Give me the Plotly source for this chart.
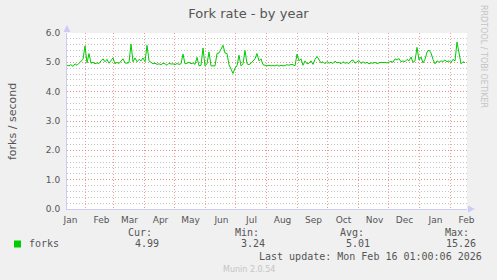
import pandas as pd
import plotly.graph_objects as go

# ---- data ----
start_date = "2025-01-13 12:00"
step_days = 2
forks = [
    4.90, 4.88, 4.92, 4.86, 4.95, 4.90, 4.97, 5.05, 5.10, 5.56,
    4.98, 5.30, 4.97, 5.00, 4.95, 4.98, 4.96, 5.05, 5.12, 5.02,
    5.10, 4.97, 5.05, 5.15, 4.95, 5.00, 4.96, 5.05, 5.12, 4.98,
    4.97, 4.99, 5.62, 5.02, 5.15, 5.02, 5.10, 5.05, 5.15, 5.02,
    5.58, 5.05, 5.00, 4.95, 4.97, 4.93, 4.95, 4.92, 4.97, 4.95,
    4.90, 4.97, 4.94, 4.95, 4.92, 4.96, 4.93, 4.95, 5.28, 4.95,
    4.97, 5.00, 4.95, 4.98, 4.93, 5.17, 4.88, 4.90, 5.49, 4.88,
    4.95, 5.35, 4.88, 4.87, 4.88, 5.30, 5.32, 5.45, 5.58, 5.32,
    5.30, 4.92, 4.75, 4.62, 4.80, 4.88, 5.24, 4.88, 4.95, 5.40,
    4.95, 4.92, 4.97, 5.05, 5.12, 5.30, 5.05, 5.12, 4.92, 4.90,
    4.88, 4.90, 4.88, 4.89, 4.88, 4.91, 4.87, 4.90, 4.88, 4.89,
    4.92, 4.90, 4.93, 4.92, 4.88, 5.28, 5.05, 5.12, 4.90, 5.05,
    4.95, 4.97, 5.05, 4.93, 5.10, 5.20, 5.08, 4.98, 5.02, 4.95,
    5.03, 4.97, 5.00, 4.96, 5.04, 4.98, 5.00, 4.95, 5.02, 4.97,
    4.99, 4.96, 5.05, 5.08, 4.97, 5.02, 5.06, 4.96, 5.02, 4.97,
    5.00, 4.95, 4.98, 4.97, 5.00, 4.96, 4.98, 5.00, 4.99, 5.00,
    4.98, 5.00, 5.03, 5.00, 5.12, 5.08, 5.13, 5.02, 5.05, 5.02,
    5.10, 5.05, 5.18, 5.00, 5.05, 5.51, 5.08, 5.18, 4.98, 5.10,
    5.35, 5.42, 5.32, 5.10, 4.95, 5.05, 5.00, 5.05, 5.03, 5.08,
    5.02, 5.05, 4.99, 5.10, 5.05, 5.69, 5.35, 4.95, 5.02, 4.99,
]
month_labels = ["Jan", "Feb", "Mar", "Apr", "May", "Jun", "Jul",
                "Aug", "Sep", "Oct", "Nov", "Dec", "Jan", "Feb"]
label_dates = ["2025-01-17", "2025-02-17", "2025-03-17", "2025-04-17",
               "2025-05-17", "2025-06-17", "2025-07-17", "2025-08-17",
               "2025-09-17", "2025-10-17", "2025-11-17", "2025-12-17",
               "2026-01-17", "2026-02-17"]
month_starts = ["2025-02-01", "2025-03-01", "2025-04-01", "2025-05-01",
                "2025-06-01", "2025-07-01", "2025-08-01", "2025-09-01",
                "2025-10-01", "2025-11-01", "2025-12-01", "2026-01-01",
                "2026-02-01"]
x_range = ["2025-01-13 12:00", "2026-02-17 12:00"]
y_ticks = [0, 1, 2, 3, 4, 5, 6]
y_tick_labels = ["0.0", "1.0", "2.0", "3.0", "4.0", "5.0", "6.0"]
stats = {"Cur:": "4.99", "Min:": "3.24", "Avg:": "5.01", "Max:": "15.26"}
title = "Fork rate - by year"
y_title = "forks / second"
last_update = "Last update: Mon Feb 16 01:00:06 2026"

dates = pd.date_range(start=start_date, periods=len(forks), freq=f"{step_days}D")

# ---- style ----
BG = "#F0F0F0"
TXT = "#555555"
MONO = "DejaVu Sans Mono"
SANS = "DejaVu Sans"
MAJOR = "rgba(240,120,120,0.75)"
MINOR = "rgba(150,150,150,0.55)"
AXIS = "#CCCCF5"
W, H = 497, 280
L, R, T, B = 67, 30, 33, 71
PW, PH = W - L - R, H - T - B


def px(x):
    return (x - L) / PW


def py(y):
    return (H - B - y) / PH


fig = go.Figure()
# invisible trace on xaxis2 to activate month-start grid
fig.add_trace(go.Scatter(x=[dates[0]], y=[0], xaxis="x2", mode="markers",
                         marker=dict(opacity=0), hoverinfo="skip", showlegend=False))
fig.add_trace(go.Scatter(x=dates, y=forks, mode="lines",
                         line=dict(color="#00CC00", width=1), showlegend=False))

fig.update_layout(
    width=W, height=H,
    margin=dict(l=L, r=R, t=T, b=B),
    paper_bgcolor=BG, plot_bgcolor="white",
    title=dict(text=title, x=0.5, xref="container", y=1 - 13 / H, yref="container",
               xanchor="center", yanchor="middle",
               font=dict(family=SANS, size=13, color=TXT)),
    xaxis=dict(range=x_range, tickmode="array", tickvals=label_dates, ticktext=month_labels,
               showgrid=False, zeroline=False, showline=True, linecolor=AXIS, linewidth=1,
               ticks="outside", ticklen=2, tickcolor="rgba(0,0,0,0)",
               tickfont=dict(family=SANS, size=9, color=TXT)),
    xaxis2=dict(range=x_range, overlaying="x", tickmode="array", tickvals=month_starts,
                showticklabels=False, showgrid=True, gridcolor=MAJOR, griddash="1px,2px",
                gridwidth=1, zeroline=False, showline=False, ticks=""),
    yaxis=dict(range=[0, 6], tickmode="array", tickvals=y_ticks, ticktext=y_tick_labels,
               showgrid=True, gridcolor=MAJOR, griddash="1px,2px", gridwidth=1,
               minor=dict(dtick=0.2, showgrid=True, gridcolor=MINOR, griddash="1px,2px",
                          gridwidth=1, ticks=""),
               zeroline=False, showline=True, linecolor=AXIS, linewidth=1,
               ticks="outside", ticklen=4, tickcolor="rgba(0,0,0,0)",
               tickfont=dict(family=SANS, size=9, color=TXT)),
)

# axis arrows
fig.add_shape(type="path", xref="paper", yref="paper",
              path=f"M {px(67)} {py(25)} L {px(63.5)} {py(32)} L {px(70.5)} {py(32)} Z",
              fillcolor=AXIS, line=dict(width=0))
fig.add_shape(type="path", xref="paper", yref="paper",
              path=f"M {px(475)} {py(209)} L {px(468)} {py(205.5)} L {px(468)} {py(212.5)} Z",
              fillcolor=AXIS, line=dict(width=0))
# legend colour box
fig.add_shape(type="rect", xref="paper", yref="paper",
              x0=px(14), x1=px(21), y0=py(247.5), y1=py(240.5),
              fillcolor="#00CC00", line=dict(width=0))

ann = []
ann.append(dict(text=y_title, x=px(12), y=0.5, textangle=-90,
                font=dict(family=SANS, size=11, color=TXT)))
ann.append(dict(text="RRDTOOL / TOBI OETIKER", x=px(484), y=py(56), textangle=90,
                font=dict(family=SANS, size=8, color="#C4C4C4")))
ann.append(dict(text="forks", x=px(27), y=py(244), xanchor="left",
                font=dict(family=MONO, size=10, color=TXT)))
head_right = [153.5, 260.5, 365.5, 470.5]
val_right = [161, 267, 372, 477.5]
for (k, v), hr, vr in zip(stats.items(), head_right, val_right):
    ann.append(dict(text=k, x=px(hr), y=py(232.5), xanchor="right",
                    font=dict(family=MONO, size=10, color=TXT)))
    ann.append(dict(text=v, x=px(vr), y=py(244), xanchor="right",
                    font=dict(family=MONO, size=10, color=TXT)))
ann.append(dict(text=last_update, x=px(483.5), y=py(256.5), xanchor="right",
                font=dict(family=MONO, size=10, color=TXT)))
ann.append(dict(text="Munin 2.0.54", x=px(248.5), y=py(269),
                font=dict(family=SANS, size=8, color="#C4C4C4")))
for a in ann:
    a.setdefault("xanchor", "center")
    a.update(xref="paper", yref="paper", yanchor="middle", showarrow=False)
fig.update_layout(annotations=ann)

fig.write_html("out.html")
